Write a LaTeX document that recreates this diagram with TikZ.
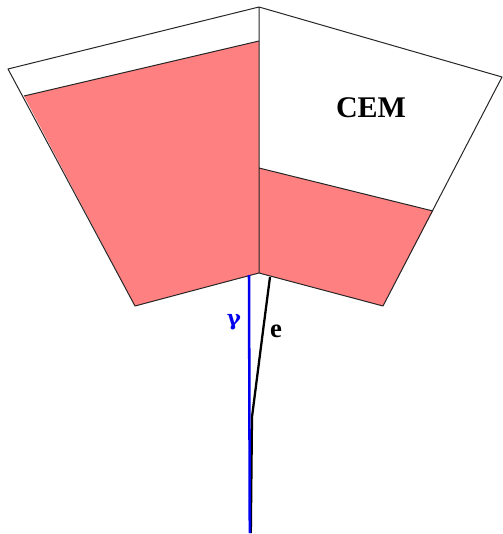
\documentclass[tikz,border=0pt]{standalone}
\usepackage{fontspec}
\setmainfont{Liberation Serif}
\newfontfamily\dejavu{DejaVu Serif}
\definecolor{cellred}{RGB}{255,128,128}
\definecolor{trackblue}{RGB}{0,0,240}
\tikzset{
  outline/.style={draw=black!85,line width=0.75pt,line join=round},
  lbl/.style={inner sep=0pt,font=\bfseries}
}
\begin{document}
\begin{tikzpicture}[x=0.75pt,y=-0.75pt]
\useasboundingbox (0,0) rectangle (502,534);
\coordinate (T) at (259,7);
\coordinate (LT) at (8,69);
\coordinate (RT) at (502,77);
\coordinate (BL) at (135,306);
\coordinate (BM) at (259,273);
\coordinate (BR) at (383,306);
\coordinate (RL) at (24,96);
\coordinate (RM) at (259,41);
\coordinate (SM) at (259,168);
\coordinate (SR) at (433,211);
\fill[cellred] (RL) -- (RM) -- (BM) -- (BL) -- cycle;
\fill[cellred] (SM) -- (SR) -- (BR) -- (BM) -- cycle;
\draw[outline] (BM) -- (BL) -- (LT) -- (T) -- (RT) -- (BR) -- (BM) -- (T);
\draw[outline] (RL) -- (RM);
\draw[outline] (SM) -- (SR);
\coordinate (gs) at (249,275);
\coordinate (es) at (270,277);
\coordinate (o) at (249.8,533);
\coordinate (em) at (252,417);
\coordinate (eo) at (250.8,533);
\draw[black,line width=1.7pt,line join=round] (es) -- (263.5,327) -- (em) -- (eo);
\draw[trackblue,line width=1.9pt] (gs) -- (o);
\node[lbl,font=\bfseries\fontsize{22.5}{23}\selectfont] (cem) at (371,108) {CEM};
\node[lbl,text=trackblue,font=\bfseries\dejavu\fontsize{16}{16}\selectfont] (gamma) at (234,322) {γ};
\node[lbl,font=\bfseries\fontsize{20}{20}\selectfont] (e) at (276,331) {e};
\end{tikzpicture}
\end{document}
